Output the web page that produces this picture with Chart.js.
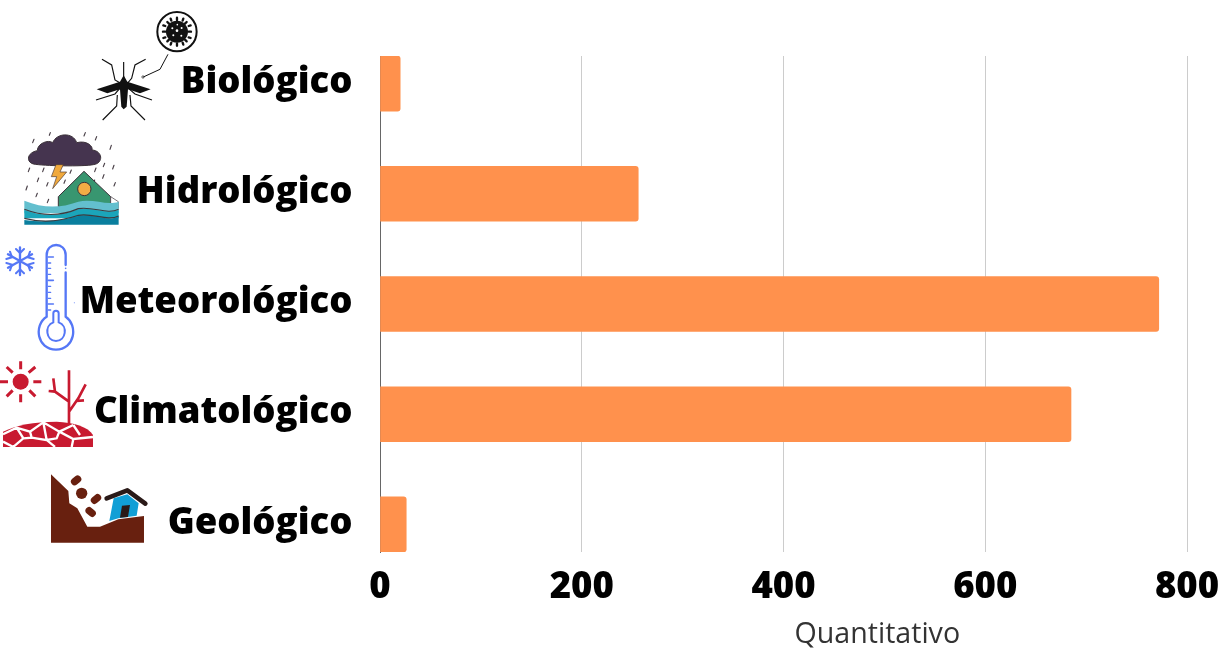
<!DOCTYPE html>
<html>
<head>
<meta charset="utf-8">
<script src="https://cdn.jsdelivr.net/npm/chart.js@4"></script>
<style>
  body { margin: 0; background: #fff; }
  #wrap { position: relative; width: 1218px; height: 649px; overflow: hidden; }
  #chart { position: absolute; left: 0; top: 0; }
  #icons { position: absolute; left: 0; top: 0; pointer-events: none; }
</style>
</head>
<body>
<div id="wrap">
  <canvas id="chart" width="1218" height="649"></canvas>
  <svg id="icons" width="1218" height="649" viewBox="0 0 1218 649">
    <!-- coordinates in these groups are 3x, taken from crops of the picture -->
    <g transform="scale(0.3333)">
      <!-- mosquito and virus -->
      <g fill="none" stroke="#111" stroke-width="3.5">
        <circle cx="531" cy="95" r="59" stroke-width="6"/>
        <path d="M504 163 L480 208 L430 231" stroke-width="3"/>
        <circle cx="429" cy="231" r="3.5" stroke-width="2"/>
        <path d="M371 186 V235 M306 178 L335 195 L345 240 L362 250 M437 178 L405 195 L395 235 L382 250"/>
        <path d="M288 300 L345 282 L362 262 M456 300 L405 282 L382 262"/>
        <path d="M308 360 L350 318 L352 285 M435 360 L393 318 L390 285"/>
      </g>
      <path fill="#111" d="M371 226 L382 245 L452 268 L420 280 L384 268 L380 320 L371 328 L364 320 L360 268 L322 280 L290 268 L360 245 Z"/>
      <circle cx="531" cy="95" r="33" fill="#111"/>
      <g fill="#111" stroke="#111" stroke-width="7" stroke-linecap="round">
        <path d="M531 53 V60 M531 130 V137 M489 95 H496 M566 95 H573 M502 66 L507 71 M555 119 L560 124 M560 66 L555 71 M507 119 L502 124 M512 56 L514 62 M550 56 L548 62 M512 134 L514 128 M550 134 L548 128 M490 76 L496 78 M572 76 L566 78 M490 114 L496 112 M572 114 L566 112"/>
      </g>
      <g fill="#fff">
        <circle cx="531" cy="92" r="4"/><circle cx="517" cy="85" r="3"/><circle cx="545" cy="84" r="3"/>
        <circle cx="520" cy="106" r="3"/><circle cx="544" cy="107" r="3"/><circle cx="532" cy="74" r="2.5"/>
      </g>

      <!-- flood -->
      <path fill="#45344f" stroke="#3a3038" stroke-width="3" d="M100 492 C78 486 80 458 112 452 C112 430 145 418 158 428 C170 398 220 396 230 428 C262 420 280 440 276 450 C308 452 312 490 280 494 C250 500 130 498 100 492 Z"/>
      <g stroke="#4a4048" stroke-width="3.5" stroke-linecap="round">
        <path d="M98 428 L102 418 M148 406 L151 398 M252 408 L256 398 M286 420 L290 410 M330 448 L334 436 M85 515 L89 504 M128 515 L132 504 M210 520 L214 510 M284 515 L288 504 M310 500 L314 490 M338 507 L342 496 M78 570 L82 558 M112 545 L116 534 M140 558 L144 548 M164 512 L168 502 M108 590 L112 580 M142 608 L146 598 M308 535 L312 524 M342 558 L346 548 M192 550 L196 540 M280 550 L284 540"/>
      </g>
      <path fill="#f0a93c" stroke="#4a3a38" stroke-width="2" d="M168 494 L190 494 L180 516 L200 516 L158 566 L170 530 L154 530 Z"/>
      <path fill="#389670" stroke="#3a3038" stroke-width="3" d="M252 514 L332 590 L332 620 L175 620 L175 590 Z"/>
      <path d="M332 590 L355 605 L355 625 L332 625 Z" fill="#fff" stroke="#3a3038" stroke-width="2"/>
      <circle cx="253" cy="567" r="20" fill="#f2ac45" stroke="#3a3038" stroke-width="3"/>
      <path fill="#63bfce" d="M73 602 C130 625 180 625 235 605 C280 595 320 618 356 605 L356 640 L73 640 Z"/>
      <path fill="#1ba5ba" d="M73 630 C130 650 180 650 235 628 C280 620 320 645 356 630 L356 655 L73 655 Z"/>
      <path fill="#0a7f9e" d="M73 660 C130 668 180 662 235 648 C280 640 320 665 356 650 L356 674 L73 674 Z"/>
      <g fill="none" stroke="#3d3a3e" stroke-width="3.5">
        <path d="M73 628 C130 650 180 650 235 626 C280 618 320 645 356 628"/>
        <path d="M73 655 C130 670 180 665 235 646 C280 638 320 665 356 648"/>
      </g>
    </g>

    <g transform="translate(0,235) scale(0.3333)">
      <!-- thermometer and snowflake -->
      <g fill="none" stroke="#5577f6" stroke-width="7" stroke-linecap="round">
        <path d="M140 245 V60 C140 20 197 20 197 60 V90 M197 112 V245 C235 270 225 344 168 344 C111 344 100 270 140 245"/>
        <path d="M160 235 C160 225 176 225 176 235 V262 C205 272 198 318 168 318 C138 318 132 272 160 262 Z" stroke-width="6"/>
        <path d="M145 66 H160 M145 136 H160 M145 207 H160" stroke-width="5"/>
        <path d="M145 84 H152 M145 100 H152 M145 118 H152 M145 154 H152 M145 172 H152 M145 190 H152 M145 225 H152" stroke-width="4"/>
        <path d="M60 37 V120 M24 58 L96 98 M96 58 L24 98" stroke-width="7"/>
        <path d="M48 42 L60 54 L72 42 M48 115 L60 103 L72 115 M19 72 L36 67 L30 50 M101 72 L84 67 L90 50 M19 84 L36 89 L30 106 M101 84 L84 89 L90 106" stroke-width="6"/>
      </g>
      <circle cx="197" cy="100" r="2.5" fill="#5577f6"/>
      <circle cx="223" cy="203" r="1.5" fill="#5577f6"/>

      <!-- drought -->
      <g stroke="#c81a30" stroke-width="9" fill="none">
        <path d="M62 379 V403 M62 478 V502 M0 440 H24 M100 440 H124 M20 396 L38 413 M88 466 L106 484 M106 396 L86 413 M38 466 L20 484"/>
        <path d="M207 406 V570 M207 500 L165 470 L146 468 M165 470 L160 430 M207 530 L235 490 L257 448 M228 498 L252 496" stroke-width="8"/>
      </g>
      <circle cx="62" cy="440" r="24" fill="#c81a30"/>
      <path fill="#c81a30" d="M9 636 V590 C50 570 100 560 170 560 C220 562 265 575 279 600 V636 Z"/>
      <g fill="none" stroke="#fff" stroke-width="7">
        <path d="M9 598 L50 578 L90 590 L130 562 L178 590 L220 570 M50 578 L70 610 L40 636 M90 590 L95 608 L70 610 M95 608 L140 615 L165 636 M130 562 L140 615 M178 590 L170 610 L140 615 M178 590 L220 612 L279 606 M220 612 L215 636 M220 570 L240 600 M9 620 L40 636"/>
      </g>

      <!-- landslide -->
      <path fill="#68200f" d="M153 718 L205 768 L208 805 L232 820 L262 875 L300 875 L355 853 L432 843 V923 H153 Z"/>
      <g fill="#68200f">
        <rect x="212" y="725" width="34" height="22" rx="11" transform="rotate(-40 229 737)"/>
        <circle cx="245" cy="775" r="17"/>
        <rect x="271" y="781" width="34" height="22" rx="11" transform="rotate(-40 288 792)"/>
        <rect x="255" y="820" width="34" height="22" rx="11" transform="rotate(40 272 831)"/>
      </g>
      <path fill="#119fd6" d="M341 790 L382 778 L416 805 L410 842 L355 850 L328 858 Z"/>
      <path fill="#2a1a18" d="M360 848 L366 812 L390 810 L384 846 Z"/>
      <path fill="none" stroke="#2a1a18" stroke-width="14" stroke-linecap="round" stroke-linejoin="round" d="M320 790 L382 766 L436 806"/>
    </g>
  </svg>
</div>

<script>
const categories = ["Biológico", "Hidrológico", "Meteorológico", "Climatológico", "Geológico"];
const values = [20, 256, 772, 685, 26];
const xTicks = [0, 200, 400, 600, 800];
const rows = [0, 1, 2, 3, 4];
const xTitle = "Quantitativo";

const fontFamily = "'Open Sans', sans-serif";

// the axis title sits right of the plot centre, so it is placed on the x scale
const xTitlePlugin = {
  id: "xTitle",
  afterDraw(chart) {
    const ctx = chart.ctx;
    ctx.save();
    ctx.font = "400 28.6px " + fontFamily;
    ctx.fillStyle = "#333";
    ctx.textAlign = "center";
    ctx.textBaseline = "middle";
    ctx.fillText(xTitle, chart.scales.x.getPixelForValue(493), 635);
    ctx.restore();
  },
};

new Chart(document.getElementById("chart"), {
  type: "bar",
  data: {
    datasets: [
      {
        data: values.map((v, i) => ({ x: v, y: rows[i] })),
        backgroundColor: "#FF914D",
        barThickness: 55,
        borderRadius: { topRight: 3, bottomRight: 3 },
        borderSkipped: false,
      },
    ],
  },
  plugins: [xTitlePlugin],
  options: {
    indexAxis: "y",
    responsive: false,
    animation: false,
    layout: { padding: { top: 56, right: 31, bottom: 0, left: 0 } },
    plugins: { legend: { display: false }, tooltip: { enabled: false } },
    scales: {
      x: {
        type: "linear",
        min: 0,
        max: 800,
        afterBuildTicks: (scale) => {
          scale.ticks = xTicks.map((v) => ({ value: v }));
        },
        afterFit: (scale) => {
          scale.height = 97;
          scale.paddingRight = 0;
        },
        grid: { color: "#cccccc", lineWidth: 1, drawTicks: false },
        border: { display: false },
        ticks: {
          color: "#000",
          padding: 14,
          maxRotation: 0,
          font: { family: fontFamily, size: 36.5, weight: "800" },
        },
      },
      y: {
        type: "linear",
        reverse: true,
        offset: false,
        min: -0.25,
        max: 4.25,
        afterBuildTicks: (scale) => {
          // labels sit a pixel above the bar centres
          scale.ticks = rows.map((v) => ({ value: v - 0.012 }));
        },
        afterFit: (scale) => {
          scale.width = 380;
        },
        grid: { display: false, drawTicks: false, offset: false },
        border: { color: "#666666", width: 1 },
        ticks: {
          color: "#000",
          padding: 27.5,
          autoSkip: false,
          callback: (v, i) => categories[i],
          font: { family: fontFamily, size: 36.5, weight: "800" },
        },
      },
    },
  },
});
</script>
</body>
</html>
